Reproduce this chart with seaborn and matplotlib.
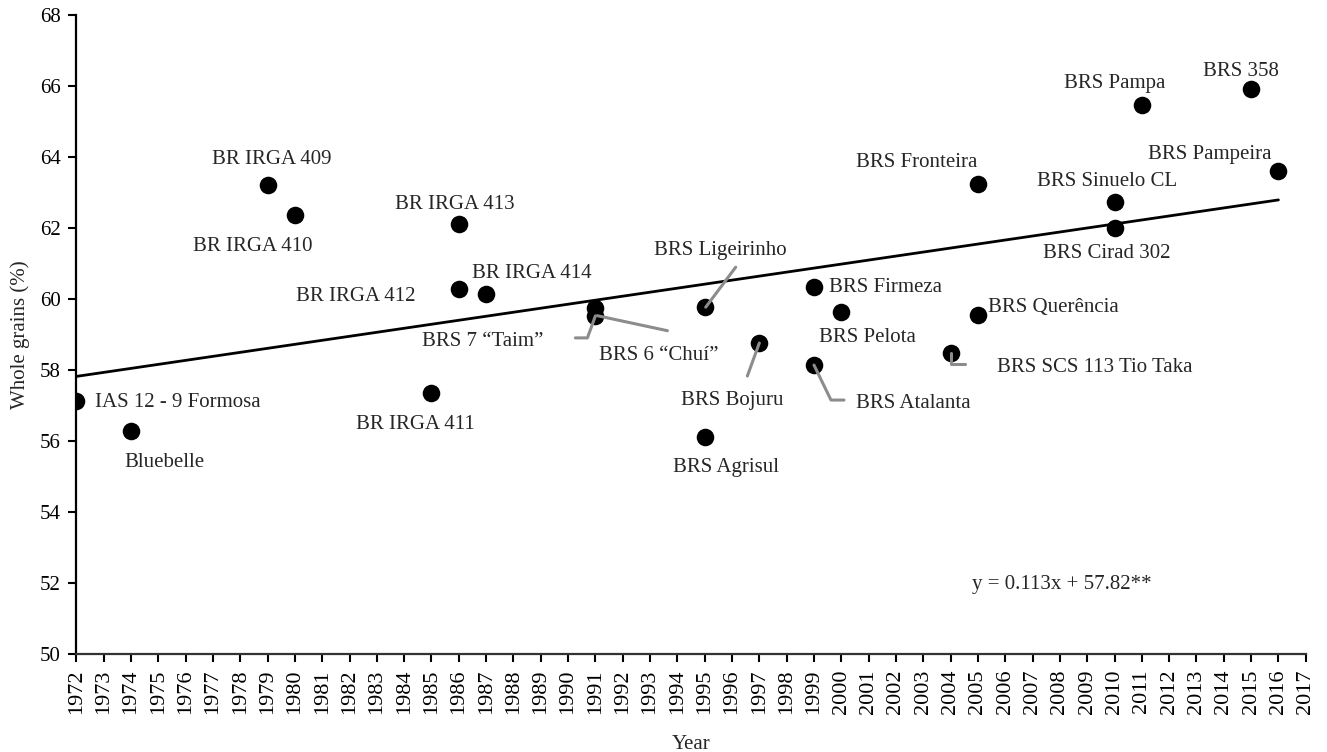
import matplotlib
matplotlib.use("Agg")
import matplotlib.pyplot as plt
import matplotlib.transforms as mtransforms
from matplotlib.lines import Line2D
import numpy as np
import pandas as pd
import seaborn as sns

CULTIVARS = [
    "IAS 12 - 9 Formosa", "Bluebelle", "BR IRGA 409", "BR IRGA 410", "BR IRGA 411",
    "BR IRGA 412", "BR IRGA 413", "BR IRGA 414", "BRS 7 \u201cTaim\u201d", "BRS 6 \u201cChu\u00ed\u201d",
    "BRS Ligeirinho", "BRS Agrisul", "BRS Bojuru", "BRS Firmeza", "BRS Atalanta",
    "BRS Pelota", "BRS SCS 113 Tio Taka", "BRS Quer\u00eancia", "BRS Fronteira",
    "BRS Cirad 302", "BRS Sinuelo CL", "BRS Pampa", "BRS 358", "BRS Pampeira",
]
YEARS = [1972, 1974, 1979, 1980, 1985, 1986, 1986, 1987, 1991, 1991,
         1995, 1995, 1997, 1999, 1999, 2000, 2004, 2005, 2005,
         2010, 2010, 2011, 2015, 2016]
WHOLE_GRAINS = [57.13, 56.28, 63.20, 62.37, 57.34, 60.27, 62.11, 60.14, 59.75, 59.53,
                59.77, 56.10, 58.76, 60.33, 58.14, 59.64, 58.47, 59.55, 63.24,
                61.99, 62.73, 65.47, 65.93, 63.62]

# fitted trend: y = 0.113x + 57.82 (x = years since 1972)
SLOPE = 0.113
INTERCEPT = 57.82
TREND_YEARS = [1972, 2016]
EQUATION = "y = 0.113x + 57.82**"

# label placement: offset in pixels from the point (dx, dy up), horizontal alignment
LABEL_POS = {
    "IAS 12 - 9 Formosa": (19, -2, "left"),
    "Bluebelle": (33, -31, "center"),
    "BR IRGA 409": (4, 26, "center"),
    "BR IRGA 410": (-42, -32, "center"),
    "BR IRGA 411": (-16, -31, "center"),
    "BR IRGA 412": (-43, -7, "right"),
    "BR IRGA 413": (-4, 20, "center"),
    "BR IRGA 414": (46, 21, "center"),
    "BRS 7 \u201cTaim\u201d": (-113, -34, "center"),
    "BRS 6 \u201cChu\u00ed\u201d": (63, -40, "center"),
    "BRS Ligeirinho": (16, 57, "center"),
    "BRS Agrisul": (21, -30, "center"),
    "BRS Bojuru": (-27, -57, "center"),
    "BRS Firmeza": (15, 0, "left"),
    "BRS Atalanta": (99, -38, "center"),
    "BRS Pelota": (26, -26, "center"),
    "BRS SCS 113 Tio Taka": (144, -14, "center"),
    "BRS Quer\u00eancia": (10, 8, "left"),
    "BRS Fronteira": (-61, 22, "center"),
    "BRS Cirad 302": (-8, -25, "center"),
    "BRS Sinuelo CL": (-7, 21, "center"),
    "BRS Pampa": (-27, 21, "center"),
    "BRS 358": (-10, 17, "center"),
    "BRS Pampeira": (-69, 16, "center"),
}

# grey leader lines, vertices as pixel offsets from the point
LEADERS = {
    "BRS 7 \u201cTaim\u201d": [(0, -8), (-8, -30), (-20, -30)],
    "BRS 6 \u201cChu\u00ed\u201d": [(2, 0), (72, -15)],
    "BRS Ligeirinho": [(1, 0), (31, 40)],
    "BRS Bojuru": [(0, 0), (-12, -33)],
    "BRS Atalanta": [(0, 0), (17, -35), (30, -35)],
    "BRS SCS 113 Tio Taka": [(0, 0), (0, -11), (14, -11)],
}

DPI = 100
sns.set_style("ticks")
plt.rcParams["font.family"] = ["Liberation Serif", "DejaVu Serif"]
plt.rcParams["axes.edgecolor"] = "black"

df = pd.DataFrame({"Cultivar": CULTIVARS, "Year": YEARS, "Whole grains": WHOLE_GRAINS})
trend = pd.DataFrame({"Year": TREND_YEARS})
trend["Fit"] = INTERCEPT + SLOPE * (trend["Year"] - TREND_YEARS[0])

fig = plt.figure(figsize=(13.27, 7.52), dpi=DPI)
ax = fig.add_axes([0.0575, 0.1303, 0.9265, 0.8497])

sns.lineplot(data=trend, x="Year", y="Fit", color="black", linewidth=2.0, ax=ax, zorder=2)
sns.scatterplot(data=df, x="Year", y="Whole grains", color="black", s=160,
                edgecolor="black", linewidth=0, ax=ax, zorder=3)

ax.set_xlim(1972, 2017)
ax.set_ylim(50, 68)
ax.set_xticks(np.arange(1972, 2018))
ax.set_yticks(np.arange(50, 69, 2))
ax.tick_params(axis="x", labelrotation=90, labelsize=16, length=6, width=1.5, pad=5,
               colors="black")
ax.tick_params(axis="y", labelsize=15, length=6, width=1.5, pad=5, colors="black")
for side in ("top", "right"):
    ax.spines[side].set_visible(False)
for side in ("left", "bottom"):
    ax.spines[side].set_linewidth(1.6)
ax.spines["bottom"].set_color("#333333")

ax.set_xlabel("Year", fontsize=15, labelpad=15)
ax.set_ylabel("Whole grains (%)", fontsize=15, labelpad=7)

for row in df.itertuples(index=False):
    dx, dy, ha = LABEL_POS[row.Cultivar]
    ax.annotate(row.Cultivar, (row.Year, row._2), xytext=(dx, dy),
                textcoords="offset pixels", ha=ha, va="center", fontsize=15, zorder=4)

fig.canvas.draw()
for row in df.itertuples(index=False):
    if row.Cultivar not in LEADERS:
        continue
    px, py = ax.transData.transform((row.Year, row._2))
    verts = LEADERS[row.Cultivar]
    xs = [px + v[0] for v in verts]
    ys = [py + v[1] for v in verts]
    fig.add_artist(Line2D(xs, ys, color="#8c8c8c", linewidth=2.2,
                          transform=mtransforms.IdentityTransform(), zorder=5))

ax.text(2004.8, 51.97, EQUATION, ha="left", va="center", fontsize=15)

fig.savefig("out.png", dpi=DPI)
